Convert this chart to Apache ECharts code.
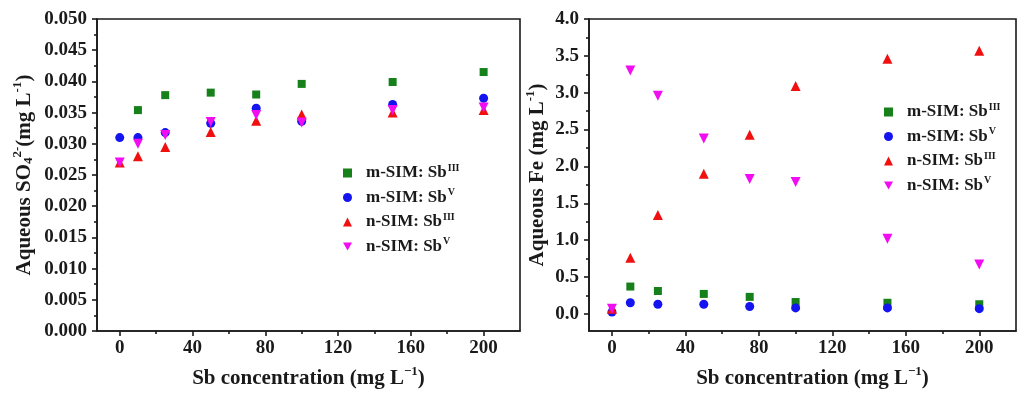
<!DOCTYPE html>
<html>
<head>
<meta charset="utf-8">
<script src="https://cdn.jsdelivr.net/npm/echarts@6/dist/echarts.min.js"></script>
<style>
  html, body { margin: 0; padding: 0; background: #fff; }
  #chart { width: 1017px; height: 394px; }
</style>
</head>
<body>
<div id="chart"></div>
<script>
// Sb concentrations tested (mg/L)
const sbConc = [0, 10, 25, 50, 75, 100, 150, 200];

// Aqueous sulfate (mg/L); null = no point plotted
const so4MSimSb3 = [null, 0.0354, 0.0378, 0.0382, 0.0379, 0.0396, 0.0399, 0.0415];
const so4MSimSb5 = [0.0310, 0.0310, 0.0318, 0.0333, 0.0357, 0.0336, 0.0363, 0.0373];
const so4NSimSb3 = [0.0270, 0.0280, 0.0295, 0.0319, 0.0337, 0.0347, 0.0350, 0.0354];
const so4NSimSb5 = [0.0270, 0.0300, 0.0314, 0.0335, 0.0346, 0.0334, 0.0354, 0.0358];

// Aqueous Fe (mg/L)
const feMSimSb3 = [null, 0.37, 0.31, 0.27, 0.23, 0.16, 0.15, 0.13];
const feMSimSb5 = [0.025, 0.15, 0.13, 0.13, 0.10, 0.08, 0.08, 0.07];
const feNSimSb3 = [0.07, 0.76, 1.34, 1.90, 2.43, 3.09, 3.46, 3.57];
const feNSimSb5 = [0.07, 3.30, 2.96, 2.38, 1.83, 1.79, 1.02, 0.67];

// Tick labels
const xTicks = [0, 40, 80, 120, 160, 200];
const xMinorTicks = [20, 60, 100, 140, 180];
const feTicks = [0, 0.5, 1.0, 1.5, 2.0, 2.5, 3.0, 3.5, 4.0];
const feMinorTicks = [0.25, 0.75, 1.25, 1.75, 2.25, 2.75, 3.25, 3.75];

// Series names (rich text markup for the superscripts)
const seriesNames = ['m-SIM: Sb III', 'm-SIM: Sb V', 'n-SIM: Sb III', 'n-SIM: Sb V'];
const legendLabels = {
  'm-SIM: Sb III': '{t|m-SIM: Sb}{s|III}',
  'm-SIM: Sb V': '{t|m-SIM: Sb}{s|V}',
  'n-SIM: Sb III': '{t|n-SIM: Sb}{s|III}',
  'n-SIM: Sb V': '{t|n-SIM: Sb}{s|V}'
};

const FONT = "'Liberation Serif', 'Times New Roman', serif";
const INK = '#1a1a1a';
const colors = ['#16801a', '#1414f0', '#f01010', '#f20cf2'];
const downTriangle = 'path://M0,0 L10,0 L5,9 Z';
const symbols = ['rect', 'circle', 'triangle', downTriangle];
const sizes = [8, 9, 10, 10];

function pairs(ys) {
  const out = [];
  ys.forEach((y, i) => { if (y !== null) out.push([sbConc[i], y]); });
  return out;
}

const nameRich = {
  n: { fontFamily: FONT, fontWeight: 'bold', fontSize: 21, color: INK, lineHeight: 24, verticalAlign: 'bottom' },
  sup: { fontFamily: FONT, fontWeight: 'bold', fontSize: 13, color: INK, lineHeight: 24, verticalAlign: 'top', padding: [0, 0, 6, 0] },
  sub: { fontFamily: FONT, fontWeight: 'bold', fontSize: 13, color: INK, lineHeight: 20, verticalAlign: 'bottom', padding: [0, 0, 0, 0] }
};

const labelStyle = { fontFamily: FONT, fontWeight: 'bold', fontSize: 19, color: INK };
const lineStyle = { color: INK, width: 1.6 };

function mainX(gridIndex, nameShift) {
  return {
    type: 'value', gridIndex, position: 'bottom', min: -12.5, max: 220,
    splitLine: { show: false },
    axisLine: { show: true, onZero: false, lineStyle },
    axisTick: { show: true, inside: false, length: 5, customValues: xTicks, lineStyle },
    axisLabel: Object.assign({ margin: 8, customValues: xTicks }, labelStyle),
    name: '{n|Sb concentration (mg L}{sup|\u22121}{n|)}',
    nameLocation: 'middle', nameGap: 34,
    nameTextStyle: { rich: nameRich, padding: [0, 0, 0, nameShift] }
  };
}
function minorX(gridIndex) {
  return {
    type: 'value', gridIndex, position: 'bottom', min: -12.5, max: 220,
    splitLine: { show: false },
    axisLine: { show: false, onZero: false },
    axisTick: { show: true, inside: false, length: 3, customValues: xMinorTicks, lineStyle },
    axisLabel: { show: false }
  };
}

const option = {
  backgroundColor: '#ffffff',
  animation: false,
  grid: [
    { left: 97, top: 19, width: 423, height: 312, show: true, borderColor: INK, borderWidth: 1.6, backgroundColor: 'transparent' },
    { left: 589, top: 19, width: 427, height: 314, show: true, borderColor: INK, borderWidth: 1.6, backgroundColor: 'transparent' }
  ],
  xAxis: [mainX(0, 0), minorX(0), mainX(1, 20), minorX(1)],
  yAxis: [
    {
      type: 'value', gridIndex: 0, min: 0, max: 0.05, interval: 0.005,
      splitLine: { show: false }, minorSplitLine: { show: false },
      axisLine: { show: true, onZero: false, lineStyle },
      axisTick: { show: true, inside: false, length: 5, lineStyle },
      minorTick: { show: true, splitNumber: 2, length: 3, lineStyle },
      axisLabel: Object.assign({ margin: 10, formatter: v => v.toFixed(3) }, labelStyle),
      name: '{n|Aqueous SO}{sub|4}{sup|2-}{n|(mg L}{sup|-1}{n|)}',
      nameLocation: 'middle', nameRotate: 90, nameGap: 62,
      nameTextStyle: { rich: nameRich }
    },
    {
      type: 'value', gridIndex: 1, min: -0.233, max: 4.0,
      splitLine: { show: false },
      axisLine: { show: true, onZero: false, lineStyle },
      axisTick: { show: true, inside: false, length: 5, customValues: feTicks, lineStyle },
      axisLabel: Object.assign({ margin: 10, customValues: feTicks, formatter: v => v.toFixed(1) }, labelStyle),
      name: '{n|Aqueous Fe (mg L}{sup|-1}{n|)}',
      nameLocation: 'middle', nameRotate: 90, nameGap: 41,
      nameTextStyle: { rich: nameRich }
    },
    {
      type: 'value', gridIndex: 1, position: 'left', min: -0.233, max: 4.0,
      splitLine: { show: false },
      axisLine: { show: false, onZero: false },
      axisTick: { show: true, inside: false, length: 3, customValues: feMinorTicks, lineStyle },
      axisLabel: { show: false }
    }
  ],
  legend: [0, 1].map(g => ({
    orient: 'vertical',
    left: g === 0 ? 338 : 879,
    top: g === 0 ? 158 : 97,
    itemWidth: 9, itemHeight: 9, itemGap: 6,
    data: seriesNames,
    selectedMode: false,
    formatter: name => legendLabels[name],
    textStyle: {
      rich: {
        t: { fontFamily: FONT, fontWeight: 'bold', fontSize: 17, color: INK, lineHeight: 20, padding: [0, 0, 0, 9], verticalAlign: 'middle' },
        s: { fontFamily: FONT, fontWeight: 'bold', fontSize: 10, color: INK, lineHeight: 20, verticalAlign: 'top', padding: [0, 0, 7, 1] }
      }
    }
  })),
  series: []
};

const so4Sets = [so4MSimSb3, so4MSimSb5, so4NSimSb3, so4NSimSb5];
const feSets = [feMSimSb3, feMSimSb5, feNSimSb3, feNSimSb5];
[[so4Sets, 0, 0], [feSets, 2, 1]].forEach(([sets, xi, yi]) => {
  sets.forEach((ys, k) => {
    option.series.push({
      type: 'scatter',
      name: seriesNames[k],
      xAxisIndex: xi, yAxisIndex: yi,
      symbol: symbols[k], symbolSize: sizes[k],
      itemStyle: { color: colors[k], opacity: 1 },
      z: 2 + k,
      data: pairs(ys)
    });
  });
});

const chart = echarts.init(document.getElementById('chart'), null, { renderer: 'canvas' });
chart.setOption(option);
</script>
</body>
</html>
